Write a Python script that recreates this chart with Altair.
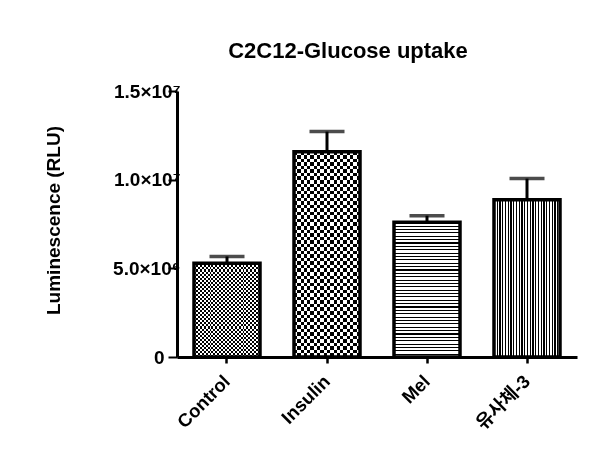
import altair as alt
import pandas as pd

# ---- data ----
categories = ["Control", "Insulin", "Mel", "유사체-3"]
means = [5.28e6, 11.58e6, 7.60e6, 8.87e6]
upper = [5.67e6, 12.71e6, 7.97e6, 10.06e6]
y_tick_values = [0, 5e6, 1e7, 1.5e7]
y_tick_labels = ["0", "5.0×10⁶", "1.0×10⁷", "1.5×10⁷"]

df = pd.DataFrame({"group": categories, "mean": means, "upper": upper})

FONT = "Liberation Sans, Arial, Noto Sans CJK KR, sans-serif"


def stripes(n, duty, along_x):
    """Hard-edged black/white linear gradient used as a hatch pattern."""
    stops = []
    for i in range(n):
        a = i / n
        b = (i + duty) / n
        c = (i + 1) / n
        stops += [
            alt.GradientStop(color="black", offset=a),
            alt.GradientStop(color="black", offset=b),
            alt.GradientStop(color="white", offset=b),
            alt.GradientStop(color="white", offset=min(c, 1.0)),
        ]
    if along_x:
        return alt.LinearGradient(gradient="linear", stops=stops, x1=0, x2=1, y1=0, y2=0)
    return alt.LinearGradient(gradient="linear", stops=stops, x1=0, x2=0, y1=0, y2=1)


label_expr = " : ".join(
    f"datum.value == {v} ? '{l}'" for v, l in zip(y_tick_values, y_tick_labels)
) + " : ''"

x_enc = alt.X(
    "group:N",
    sort=categories,
    scale=alt.Scale(paddingInner=0.34, paddingOuter=0.17),
    axis=alt.Axis(
        title=None,
        labelAngle=-45,
        labelAlign="right",
        labelBaseline="middle",
        labelFont=FONT,
        labelFontSize=18.5,
        labelFontWeight="bold",
        labelColor="black",
        labelPadding=15,
        labelOffset=0,
        domainColor="black",
        domainWidth=3,
        tickColor="black",
        tickWidth=2.5,
        tickSize=6,
        grid=False,
    ),
)

y_axis = alt.Axis(
    title="Luminescence (RLU)",
    titleFont=FONT,
    titleFontSize=19,
    titleFontWeight="bold",
    titleColor="black",
    titleAngle=270,
    titleAlign="center",
    titleBaseline="alphabetic",
    titleX=-118,
    titleY=129,
    values=y_tick_values,
    labelExpr=label_expr,
    labelFont=FONT,
    labelFontSize=19,
    labelFontWeight="bold",
    labelColor="black",
    labelAlign="right",
    labelBaseline="middle",
    labelPadding={"condition": {"test": "datum.value == 0", "value": 4}, "value": -12},
    domainColor="black",
    domainWidth=3,
    tickColor="black",
    tickWidth=2,
    tickSize=9,
    grid=False,
)

y_scale = alt.Scale(domain=[0, 1.5e7], nice=False, zero=True)
y_mean = alt.Y("mean:Q", scale=y_scale, axis=y_axis)

base = alt.Chart(df)


def patt(name, fill, blend=None):
    kw = dict(fill=fill, strokeWidth=0)
    if blend:
        kw["blend"] = blend
    return base.transform_filter(alt.datum.group == name).mark_bar(**kw).encode(x=x_enc, y=y_mean)


layers = [
    # Control: fine checkerboard (vertical XOR horizontal stripes)
    patt("Control", stripes(17, 0.5, True)),
    patt("Control", stripes(23, 0.5, False), blend="difference"),
    # Insulin: coarse checkerboard
    patt("Insulin", stripes(10, 0.5, True)),
    patt("Insulin", stripes(29, 0.5, False), blend="difference"),
    # Mel: horizontal lines
    patt("Mel", stripes(40, 0.33, False)),
    # 유사체-3: vertical lines
    patt("유사체-3", stripes(24, 0.38, True)),
    # outlines
    base.mark_bar(fillOpacity=0, stroke="black", strokeWidth=3.5).encode(x=x_enc, y=y_mean),
    # error bars (upper only)
    base.mark_rule(color="black", strokeWidth=3).encode(
        x=x_enc, y=y_mean, y2=alt.Y2("upper:Q")
    ),
    base.mark_tick(color="black", size=35, thickness=3.5).encode(
        x=x_enc, y=alt.Y("upper:Q", scale=y_scale, axis=y_axis)
    ),
]

chart = (
    alt.layer(*layers)
    .properties(
        width=400,
        height=266,
        title=alt.TitleParams(
            "C2C12-Glucose uptake",
            font=FONT,
            fontSize=22,
            fontWeight="bold",
            color="black",
            anchor="middle",
            frame="group",
            baseline="alphabetic",
            offset=2,
            dx=-29,
        ),
        autosize=alt.AutoSizeParams(type="none"),
        padding={"left": 177, "top": 91, "right": 26, "bottom": 99},
        background="white",
    )
    .configure_view(stroke=None)
)

chart.save("out.html", embed_options={"renderer": "svg", "actions": False})
